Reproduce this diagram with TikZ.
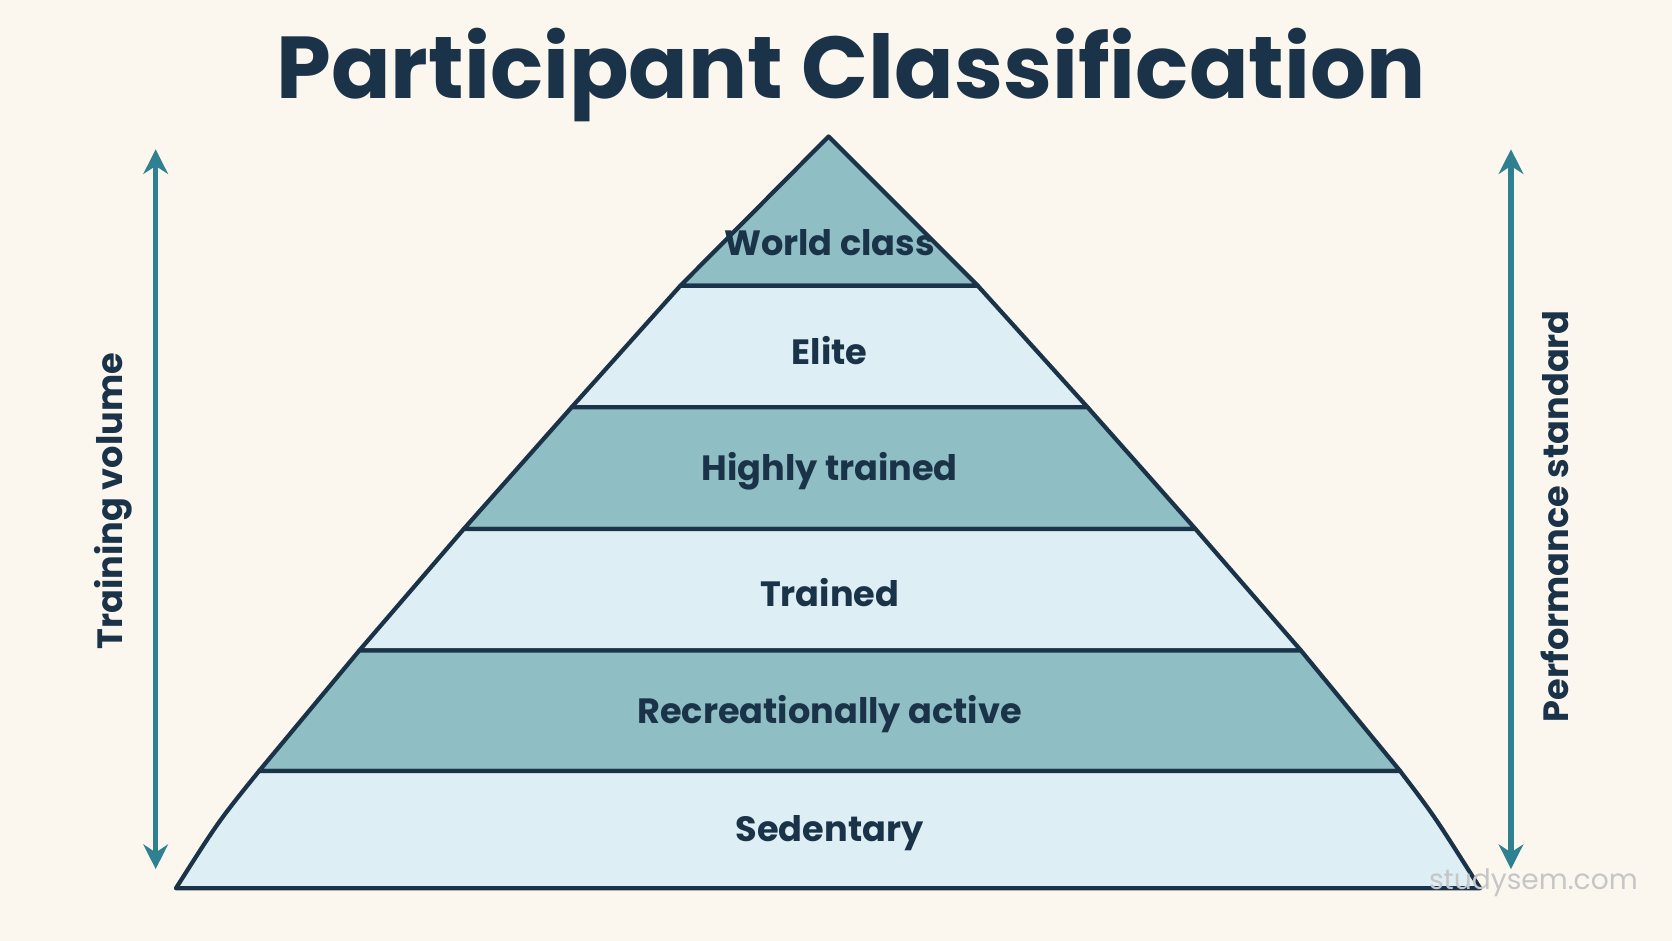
\documentclass[tikz,border=0pt]{standalone}
\usepackage{fontspec}
\setmainfont{Poppins}
\usepackage{tikz}
\usetikzlibrary{arrows.meta}
\definecolor{bgCol}{HTML}{FBF7EF}
\definecolor{darkBand}{HTML}{8FBFC4}
\definecolor{lightBand}{HTML}{DDEEF5}
\definecolor{inkCol}{HTML}{1B3348}
\definecolor{arrowCol}{HTML}{2F8090}
\begin{document}
\begin{tikzpicture}[x=0.010663cm,y=-0.010663cm,%%
  bandStyle/.style={draw=inkCol,line width=1.2pt,line join=round},%%
  labelStyle/.style={text=inkCol,font=\fontsize{10}{12}\selectfont\bfseries},%%
  arrowStyle/.style={{Stealth[length=7pt,width=7pt]}-{Stealth[length=7pt,width=7pt]},arrowCol,line width=1.5pt},%%
  sideStyle/.style={text=inkCol,font=\fontsize{10}{12}\selectfont\bfseries,rotate=90}%%
]
%% background
\fill[bgCol] (0,0) rectangle (1568,882);
\useasboundingbox (0,0) rectangle (1568,882);
%%
\node[text=inkCol,font=\fontsize{25}{30}\selectfont\bfseries] (title) at (798,70) {Participant Classification};
%%
%% Bands of the pyramid, top to bottom.
\draw[bandStyle,fill=darkBand] (777,128) -- (917,268) -- (638,268) -- cycle;
\draw[bandStyle,fill=lightBand] (638,268) -- (917,268) -- (1020,382) -- (536,382) -- cycle;
\draw[bandStyle,fill=darkBand] (536,382) -- (1020,382) -- (1121,496) -- (435,496) -- cycle;
\draw[bandStyle,fill=lightBand] (435,496) -- (1121,496) -- (1220,610) -- (337,610) -- cycle;
\draw[bandStyle,fill=darkBand] (337,610) -- (1220,610) -- (1313,723) -- (243,723) -- cycle;
\draw[bandStyle,fill=lightBand] (243,723) -- (1313,723) .. controls (1345,765) .. (1388,833) -- (165,833) .. controls (205,770) .. (243,723) -- cycle;
%%
%% Band labels.
\node[labelStyle] (worldClass) at (778,228) {World class};
\node[labelStyle] (elite) at (778,329) {Elite};
\node[labelStyle] (highlyTrained) at (778,442) {Highly trained};
\node[labelStyle] (trained) at (778,556) {Trained};
\node[labelStyle] (recreational) at (778,670) {Recreationally active};
\node[labelStyle] (sedentary) at (778,781) {Sedentary};
%%
%% Side axes.
\coordinate (leftTop) at (146,140);
\coordinate (leftBottom) at (146,815);
\coordinate (rightTop) at (1417,140);
\coordinate (rightBottom) at (1417,815);
\draw[arrowStyle] (leftTop) -- (leftBottom);
\draw[arrowStyle] (rightTop) -- (rightBottom);
\node[sideStyle] (volume) at (106,470) {Training volume};
\node[sideStyle] (standard) at (1458,484) {Performance standard};
%%
\node[text=gray!45,font=\fontsize{8}{10}\selectfont] (mark) at (1438,828) {studysem.com};
\end{tikzpicture}
\end{document}
